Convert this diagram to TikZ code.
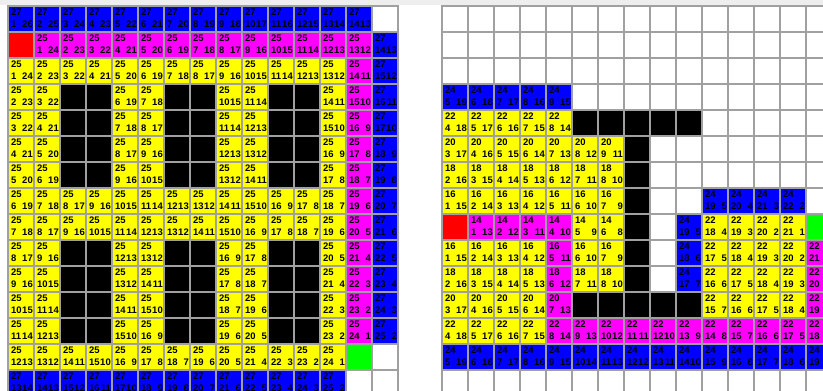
\documentclass[tikz,border=0pt]{standalone}
\usepackage{fontspec}
\newfontfamily\cellfont{Liberation Sans}
\definecolor{gridgray}{HTML}{A0A0A0}
\definecolor{chrome}{HTML}{EEEEEE}
\definecolor{cblue}{HTML}{0000FF}
\definecolor{cmag}{HTML}{FF00FF}
\definecolor{cyel}{HTML}{FFFF00}
\definecolor{cred}{HTML}{FF0000}
\definecolor{cgreen}{HTML}{00FF00}
\tikzset{
  num/.style={font=\cellfont\bfseries\fontsize{9.5}{10}\selectfont, inner sep=0pt, text=black},
  numl/.style={num, anchor=base west},
  numr/.style={num, anchor=base east},
  gridline/.style={draw=gridgray, line width=2pt},
}
\begin{document}
\begin{tikzpicture}[x=1pt,y=-1pt]
\useasboundingbox (0,0) rectangle (823,391);
\clip (0,0) rectangle (823,391);
\fill[white] (0,0) rectangle (823,391);
\fill[chrome] (0,0) rectangle (823,5);
% ---------------- left grid ----------------
\foreach \r/\row in {
  0/{4,4,4,4,4,4,4,4,4,4,4,4,4,4,0},
  1/{1,5,5,5,5,5,5,5,5,5,5,5,5,5,4},
  2/{6,6,6,6,6,6,6,6,6,6,6,6,6,5,4},
  3/{6,6,3,3,6,6,3,3,6,6,3,3,6,5,4},
  4/{6,6,3,3,6,6,3,3,6,6,3,3,6,5,4},
  5/{6,6,3,3,6,6,3,3,6,6,3,3,6,5,4},
  6/{6,6,3,3,6,6,3,3,6,6,3,3,6,5,4},
  7/{6,6,6,6,6,6,6,6,6,6,6,6,6,5,4},
  8/{6,6,6,6,6,6,6,6,6,6,6,6,6,5,4},
  9/{6,6,3,3,6,6,3,3,6,6,3,3,6,5,4},
  10/{6,6,3,3,6,6,3,3,6,6,3,3,6,5,4},
  11/{6,6,3,3,6,6,3,3,6,6,3,3,6,5,4},
  12/{6,6,3,3,6,6,3,3,6,6,3,3,6,5,4},
  13/{6,6,6,6,6,6,6,6,6,6,6,6,6,2,0},
  14/{4,4,4,4,4,4,4,4,4,4,4,4,4,0,0}} {
  \foreach[count=\ci from 0] \k in \row {
    \pgfmathsetmacro\xx{8+26*\ci}
    \pgfmathsetmacro\yy{6+26*\r}
    \edef\cc{\ifcase\k white\or cred\or cgreen\or black\or cblue\or cmag\or cyel\fi}
    \fill[\cc] (\xx,\yy) rectangle ++(26,26);
    \ifnum\k>3
      \pgfmathtruncatemacro\G{abs(\r-1)+\ci}
      \pgfmathtruncatemacro\H{abs(13-\r)+abs(13-\ci)}
      \pgfmathtruncatemacro\F{\G+\H}
      \node[numl] (L-\r-\ci-f) at (\xx+3,\yy+9.7) {\F};
      \node[numl] (L-\r-\ci-g) at (\xx+3,\yy+21.3) {\G};
      \node[numr] (L-\r-\ci-h) at (\xx+25,\yy+21.3) {\H};
    \fi
  }
}
\foreach \k in {0,...,15} \draw[gridline] (8+26*\k,5) -- (8+26*\k,392);
\foreach \k in {0,...,14} \draw[gridline] (7,6+26*\k) -- (399,6+26*\k);
% ---------------- right grid ----------------
\foreach \r/\row in {
  3/{4,4,4,4,4,0,0,0,0,0,0,0,0,0,0},
  4/{6,6,6,6,6,3,3,3,3,3,0,0,0,0,0},
  5/{6,6,6,6,6,6,6,3,0,0,0,0,0,0,0},
  6/{6,6,6,6,6,6,6,3,0,0,0,0,0,0,0},
  7/{6,6,6,6,6,6,6,3,0,0,4,4,4,4,0},
  8/{1,5,5,5,5,6,6,3,0,4,6,6,6,6,2},
  9/{6,6,6,6,5,6,6,3,0,4,6,6,6,6,5},
  10/{6,6,6,6,5,6,6,3,0,4,6,6,6,6,5},
  11/{6,6,6,6,5,3,3,3,3,3,6,6,6,6,5},
  12/{6,6,6,6,5,5,5,5,5,5,5,5,5,5,5},
  13/{4,4,4,4,4,4,4,4,4,4,4,4,4,4,4}} {
  \foreach[count=\ci from 0] \k in \row {
    \pgfmathsetmacro\xx{442+26*\ci}
    \pgfmathsetmacro\yy{6+26*\r}
    \edef\cc{\ifcase\k white\or cred\or cgreen\or black\or cblue\or cmag\or cyel\fi}
    \fill[\cc] (\xx,\yy) rectangle ++(26,26);
    \ifnum\k>3
      \pgfmathtruncatemacro\G{ifthenelse(\r>11,abs(\r-8)+\ci,ifthenelse(\ci<7,abs(\r-8)+\ci,ifthenelse(\ci==9,27-\r,16-\r+\ci)))}
      \pgfmathtruncatemacro\H{abs(\r-8)+abs(14-\ci)}
      \pgfmathtruncatemacro\F{\G+\H}
      \node[numl] (R-\r-\ci-f) at (\xx+3,\yy+9.7) {\F};
      \node[numl] (R-\r-\ci-g) at (\xx+3,\yy+21.3) {\G};
      \node[numr] (R-\r-\ci-h) at (\xx+25,\yy+21.3) {\H};
    \fi
  }
}
\foreach \k in {0,...,15} \draw[gridline] (442+26*\k,5) -- (442+26*\k,392);
\foreach \k in {0,...,14} \draw[gridline] (441,6+26*\k) -- (833,6+26*\k);
\end{tikzpicture}
\end{document}
